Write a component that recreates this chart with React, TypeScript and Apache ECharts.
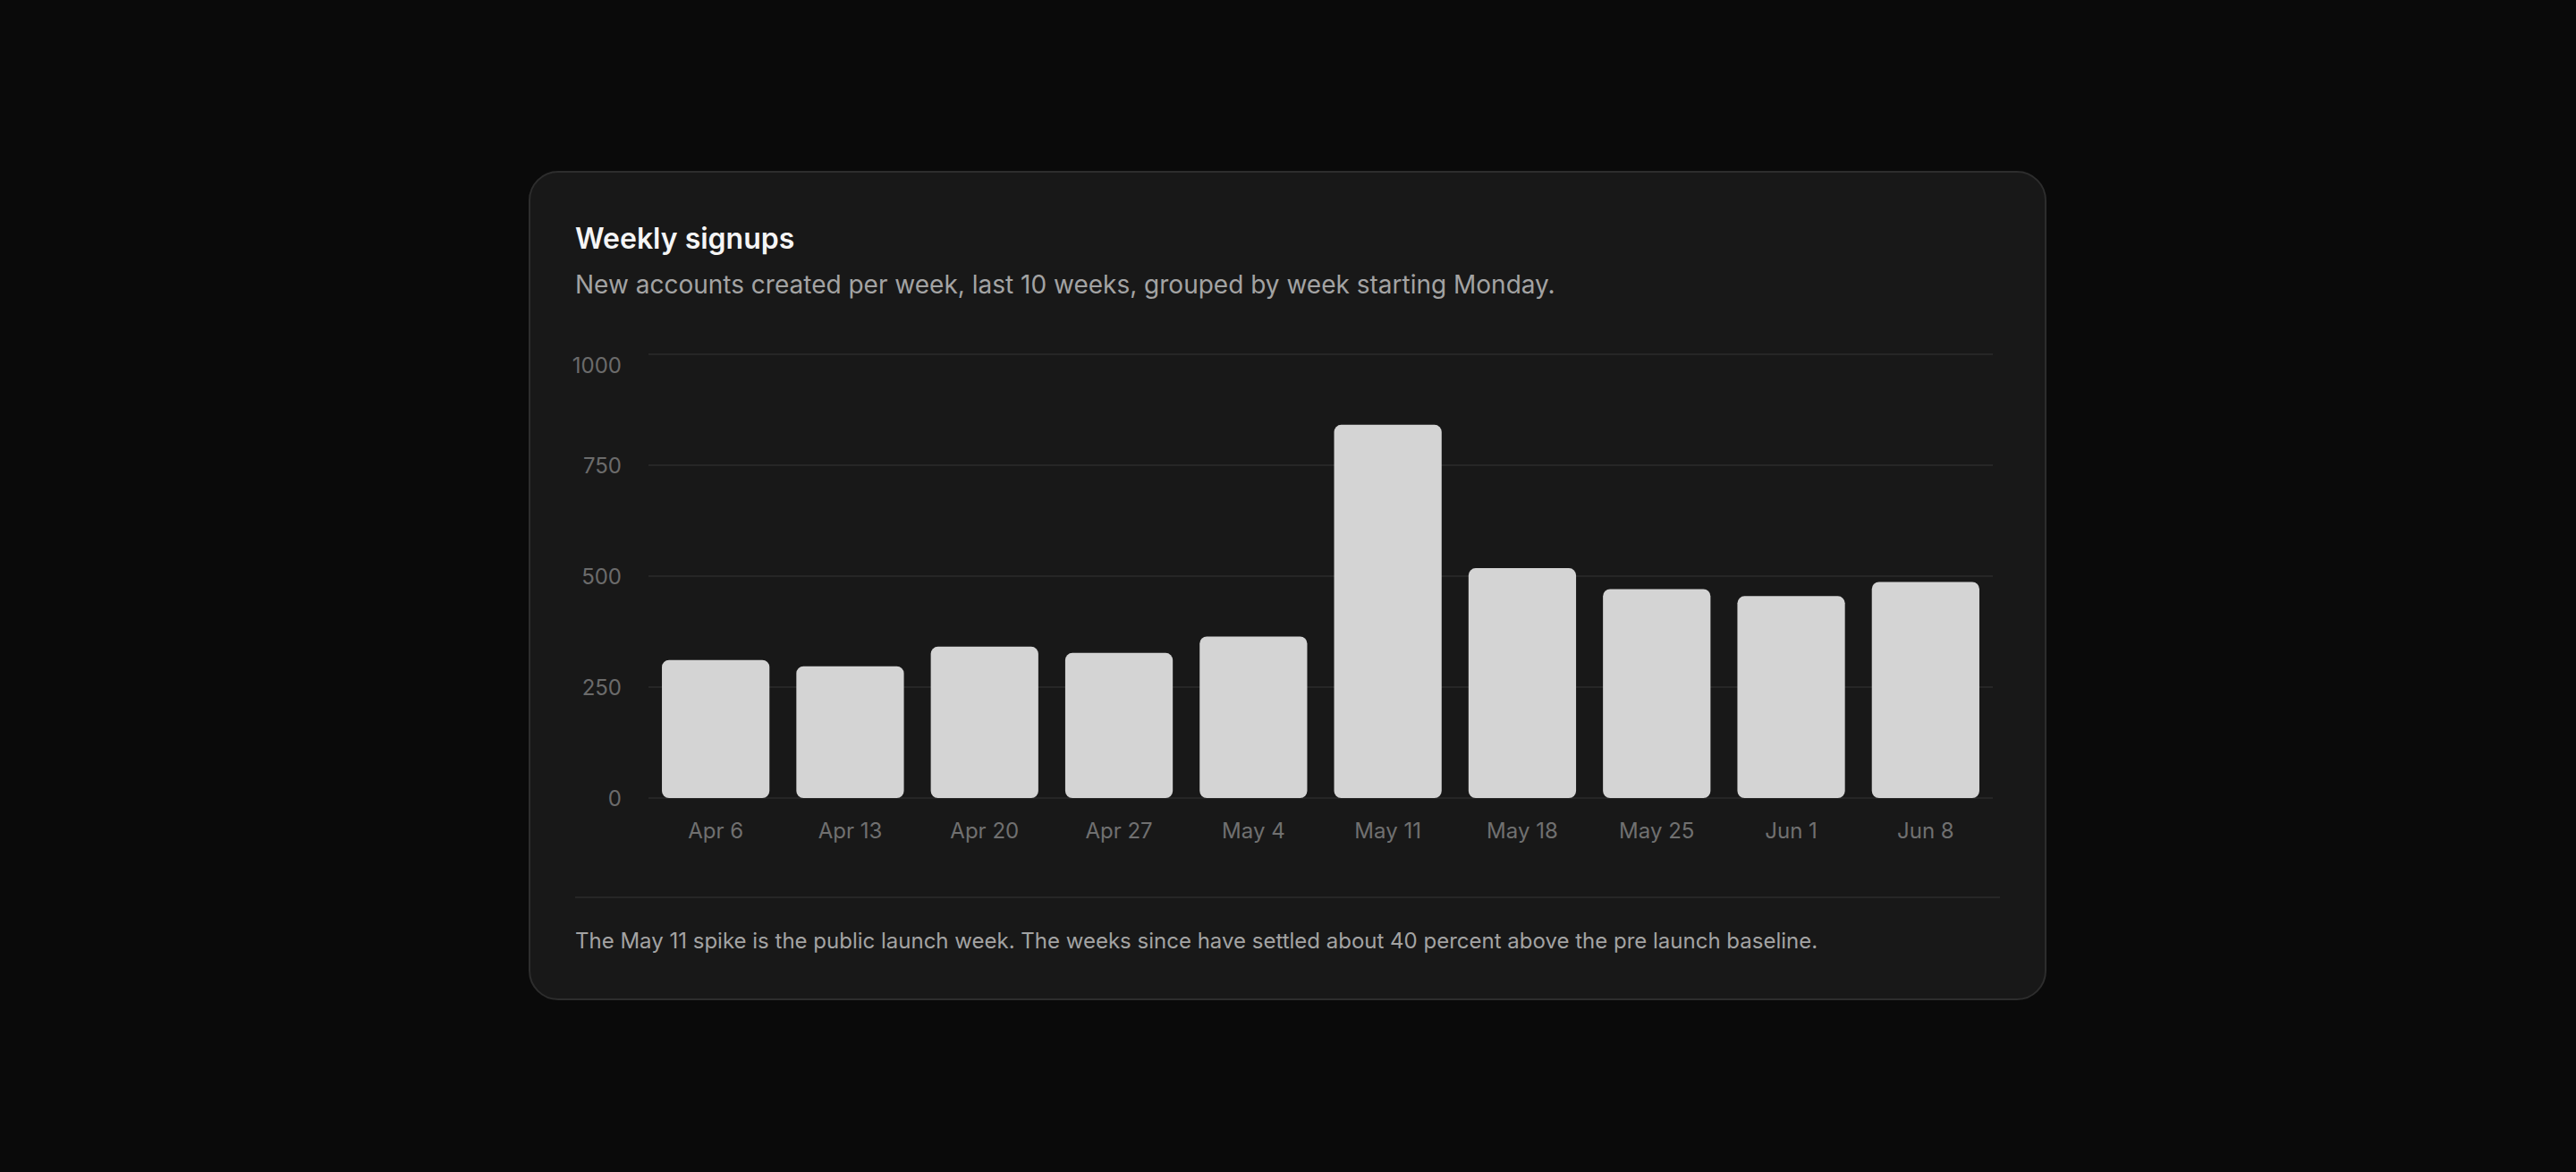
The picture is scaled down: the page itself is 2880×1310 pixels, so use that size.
import React, { useEffect, useRef } from "react";
import * as echarts from "echarts";

const weeks = ["Apr 6", "Apr 13", "Apr 20", "Apr 27", "May 4", "May 11", "May 18", "May 25", "Jun 1", "Jun 8"];
const signups = [311, 297, 341, 327, 364, 841, 518, 471, 455, 487];
const yTicks = [0, 250, 500, 750, 1000];

const titleText = "Weekly signups";
const subtitleText = "New accounts created per week, last 10 weeks, grouped by week starting Monday.";
const footnoteText =
  "The May 11 spike is the public launch week. The weeks since have settled about 40 percent above the pre launch baseline.";

const FONT = "Inter, 'Noto Sans', sans-serif";

export default function App() {
  const ref = useRef<HTMLDivElement>(null);

  useEffect(() => {
    document.body.style.margin = "0";
    document.body.style.background = "#0a0a0a";
    if (!ref.current) return;
    const chart = echarts.init(ref.current, null, { renderer: "svg" });
    chart.setOption({
      animation: false,
      backgroundColor: "#0a0a0a",
      textStyle: { fontFamily: FONT },
      graphic: [
        {
          type: "rect",
          z: -10,
          silent: true,
          shape: { x: 592, y: 192, width: 1695, height: 925, r: 32 },
          style: { fill: "#181818", stroke: "#2d2d2d", lineWidth: 2 },
        },
        {
          type: "text",
          x: 643,
          y: 266.5,
          style: {
            text: titleText,
            fill: "#f5f5f5",
            font: `600 32px ${FONT}`,
            verticalAlign: "middle",
            align: "left",
          },
        },
        {
          type: "text",
          x: 643,
          y: 317.5,
          style: {
            text: subtitleText,
            fill: "#a3a3a3",
            font: `400 28px ${FONT}`,
            verticalAlign: "middle",
            align: "left",
          },
        },
        {
          type: "line",
          silent: true,
          shape: { x1: 643, y1: 1003, x2: 2236, y2: 1003 },
          style: { stroke: "#262626", lineWidth: 2 },
        },
        {
          type: "text",
          x: 643,
          y: 1051,
          style: {
            text: footnoteText,
            fill: "#a3a3a3",
            font: `400 24px ${FONT}`,
            verticalAlign: "middle",
            align: "left",
          },
        },
      ],
      grid: { left: 725, right: 652, top: 396, bottom: 418, containLabel: false },
      xAxis: {
        type: "category",
        data: weeks,
        axisLine: { show: false },
        axisTick: { show: false },
        axisLabel: { color: "#707070", fontSize: 24, fontFamily: FONT, margin: 24 },
      },
      yAxis: {
        type: "value",
        min: yTicks[0],
        max: yTicks[yTicks.length - 1],
        interval: yTicks[1] - yTicks[0],
        axisLine: { show: false },
        axisTick: { show: false },
        axisLabel: {
          color: "#6b6b6b",
          fontSize: 24,
          fontFamily: FONT,
          margin: 30,
          verticalAlignMaxLabel: "top",
          formatter: (v: number) => String(v),
        },
        splitLine: { lineStyle: { color: "#262626", width: 2 } },
      },
      series: [
        {
          type: "bar",
          data: signups,
          barWidth: "80%",
          itemStyle: { color: "#d4d4d4", borderRadius: 8 },
        },
      ],
    });
    return () => chart.dispose();
  }, []);

  return <div ref={ref} style={{ width: 2880, height: 1310 }} />;
}
